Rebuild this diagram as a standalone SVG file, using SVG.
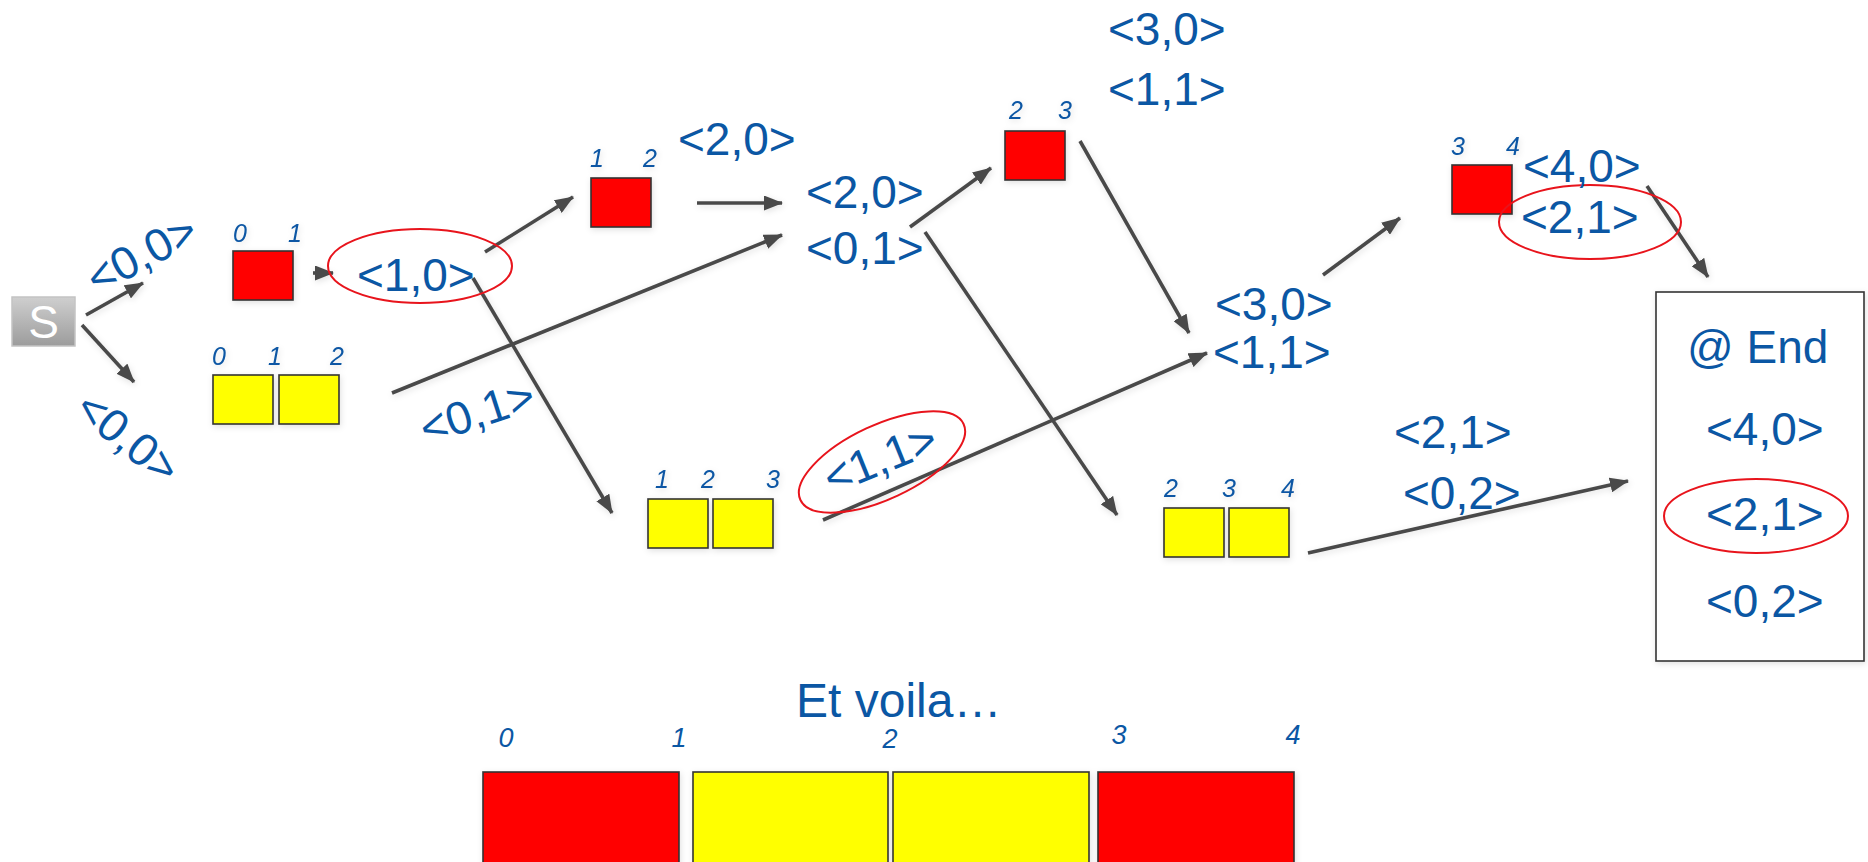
<svg xmlns="http://www.w3.org/2000/svg" width="1868" height="862" viewBox="0 0 1868 862">
  <defs>
    <marker id="arrow" markerUnits="userSpaceOnUse" markerWidth="19" markerHeight="15" refX="18" refY="7.5" orient="auto">
      <path d="M0,0 L19,7.5 L0,15 z" fill="#4a4a4a"/>
    </marker>
    <linearGradient id="sGrad" x1="0" y1="0" x2="0" y2="1">
      <stop offset="0" stop-color="#cfcfcf"/>
      <stop offset="1" stop-color="#9c9c9c"/>
    </linearGradient>
    <filter id="soft" x="-20%" y="-20%" width="140%" height="140%">
      <feDropShadow dx="1" dy="2" stdDeviation="3" flood-color="#000" flood-opacity="0.12"/>
    </filter>
  </defs>
  <style>
    .lbl { font-family: "Liberation Sans", Arial, sans-serif; font-size: 46px; fill: #0b57a4; }
    .idx { font-family: "Liberation Sans", Arial, sans-serif; font-size: 25px; font-style: italic; fill: #0b57a4; text-anchor: middle; }
    .idxb { font-family: "Liberation Sans", Arial, sans-serif; font-size: 27px; font-style: italic; fill: #0b57a4; text-anchor: middle; }
    .red { fill: #ff0000; stroke: #333; stroke-width: 1.6; }
    .yel { fill: #ffff00; stroke: #333; stroke-width: 1.6; }
    .ring { fill: none; stroke: #e8141c; stroke-width: 2; }
    .conn { stroke: #4a4a4a; stroke-width: 3.6; fill: none; marker-end: url(#arrow); }
  </style>
  <rect width="1868" height="862" fill="#ffffff"/>

  <!-- connectors -->
  <g id="connectors" filter="url(#soft)">
    <line class="conn" x1="86" y1="315" x2="143" y2="283"/>
    <line class="conn" x1="82" y1="325" x2="134" y2="382"/>
    <line class="conn" x1="313" y1="273" x2="333" y2="273" stroke-width="3"/>
    <line class="conn" x1="485" y1="252" x2="573" y2="197"/>
    <line class="conn" x1="473" y1="278" x2="612" y2="513"/>
    <line class="conn" x1="697" y1="203" x2="782" y2="203"/>
    <line class="conn" x1="392" y1="393" x2="782" y2="235"/>
    <line class="conn" x1="910" y1="227" x2="991" y2="168"/>
    <line class="conn" x1="925" y1="232" x2="1117" y2="515"/>
    <line class="conn" x1="1080" y1="141" x2="1189" y2="333"/>
    <line class="conn" x1="823" y1="520" x2="1207" y2="353"/>
    <line class="conn" x1="1323" y1="275" x2="1400" y2="218"/>
    <line class="conn" x1="1647" y1="186" x2="1708" y2="277"/>
    <line class="conn" x1="1308" y1="553" x2="1628" y2="481"/>
  </g>

  <!-- start node -->
  <g id="start">
    <rect x="12" y="297" width="63" height="49" fill="url(#sGrad)" stroke="#c4c4c4" stroke-width="1.5"/>
    <text x="43.5" y="338" font-family="Liberation Sans, Arial, sans-serif" font-size="46" fill="#ffffff" text-anchor="middle">S</text>
  </g>

  <!-- edge labels from start -->
  <g id="start-labels">
    <text class="lbl" text-anchor="middle" transform="translate(149,268) rotate(-28)">&lt;0,0&gt;</text>
    <text class="lbl" text-anchor="middle" transform="translate(118,450) rotate(39)">&lt;0,0&gt;</text>
  </g>

  <!-- red block 0-1 -->
  <g id="red01" filter="url(#soft)">
    <rect class="red" x="233" y="251" width="60" height="49"/>
    <text class="idx" x="240" y="242">0</text>
    <text class="idx" x="295" y="242">1</text>
  </g>

  <!-- yellow block 0-2 -->
  <g id="yel02" filter="url(#soft)">
    <rect class="yel" x="213" y="375" width="60" height="49"/>
    <rect class="yel" x="279" y="375" width="60" height="49"/>
    <text class="idx" x="219" y="365">0</text>
    <text class="idx" x="275" y="365">1</text>
    <text class="idx" x="337" y="365">2</text>
  </g>

  <!-- state <1,0> -->
  <g id="s10">
    <ellipse class="ring" cx="420" cy="266" rx="92" ry="37"/>
    <text class="lbl" x="357" y="291">&lt;1,0&gt;</text>
  </g>

  <g id="l01">
    <text class="lbl" text-anchor="middle" transform="translate(482,427) rotate(-18)">&lt;0,1&gt;</text>
  </g>

  <!-- red block 1-2 -->
  <g id="red12" filter="url(#soft)">
    <rect class="red" x="591" y="178" width="60" height="49"/>
    <text class="idx" x="597" y="167">1</text>
    <text class="idx" x="650" y="167">2</text>
  </g>
  <g id="l20top">
    <text class="lbl" x="678" y="155">&lt;2,0&gt;</text>
  </g>

  <!-- yellow block 1-3 -->
  <g id="yel13" filter="url(#soft)">
    <rect class="yel" x="648" y="499" width="60" height="49"/>
    <rect class="yel" x="713" y="499" width="60" height="49"/>
    <text class="idx" x="662" y="488">1</text>
    <text class="idx" x="708" y="488">2</text>
    <text class="idx" x="773" y="488">3</text>
  </g>

  <!-- state <1,1> (rotated) -->
  <g id="s11">
    <ellipse class="ring" cx="882" cy="462" rx="90" ry="37" transform="rotate(-25 882 462)"/>
    <text class="lbl" text-anchor="middle" transform="translate(886,473) rotate(-22)">&lt;1,1&gt;</text>
  </g>

  <!-- column 2 states -->
  <g id="col2">
    <text class="lbl" x="806" y="208">&lt;2,0&gt;</text>
    <text class="lbl" x="806" y="264">&lt;0,1&gt;</text>
  </g>

  <!-- red block 2-3 -->
  <g id="red23" filter="url(#soft)">
    <rect class="red" x="1005" y="131" width="60" height="49"/>
    <text class="idx" x="1016" y="119">2</text>
    <text class="idx" x="1065" y="119">3</text>
  </g>
  <g id="top3">
    <text class="lbl" x="1108" y="45">&lt;3,0&gt;</text>
    <text class="lbl" x="1108" y="105">&lt;1,1&gt;</text>
  </g>

  <!-- column 3 states -->
  <g id="col3">
    <text class="lbl" x="1215" y="320">&lt;3,0&gt;</text>
    <text class="lbl" x="1213" y="368">&lt;1,1&gt;</text>
  </g>

  <!-- yellow block 2-4 -->
  <g id="yel24" filter="url(#soft)">
    <rect class="yel" x="1164" y="508" width="60" height="49"/>
    <rect class="yel" x="1229" y="508" width="60" height="49"/>
    <text class="idx" x="1171" y="497">2</text>
    <text class="idx" x="1229" y="497">3</text>
    <text class="idx" x="1288" y="497">4</text>
  </g>
  <g id="low4">
    <text class="lbl" x="1394" y="448">&lt;2,1&gt;</text>
    <text class="lbl" x="1403" y="509">&lt;0,2&gt;</text>
  </g>

  <!-- red block 3-4 -->
  <g id="red34" filter="url(#soft)">
    <rect class="red" x="1452" y="165" width="60" height="49"/>
    <text class="idx" x="1458" y="155">3</text>
    <text class="idx" x="1513" y="155">4</text>
  </g>
  <g id="col4">
    <ellipse class="ring" cx="1590" cy="222" rx="91" ry="37"/>
    <text class="lbl" x="1523" y="182">&lt;4,0&gt;</text>
    <text class="lbl" x="1521" y="233">&lt;2,1&gt;</text>
  </g>

  <!-- end box -->
  <g id="end">
    <rect x="1656" y="292" width="208" height="369" fill="#ffffff" stroke="#333" stroke-width="1.6" filter="url(#soft)"/>
    <text class="lbl" x="1687" y="363">@ End</text>
    <text class="lbl" x="1706" y="445">&lt;4,0&gt;</text>
    <ellipse class="ring" cx="1756" cy="516" rx="92" ry="37"/>
    <text class="lbl" x="1706" y="530">&lt;2,1&gt;</text>
    <text class="lbl" x="1706" y="617">&lt;0,2&gt;</text>
  </g>

  <!-- final layout -->
  <g id="result">
    <text class="lbl" x="796" y="717" style="font-size:48px">Et voila…</text>
    <g filter="url(#soft)">
      <rect class="red" x="483" y="772" width="196" height="100"/>
      <rect class="yel" x="693" y="772" width="195" height="100"/>
      <rect class="yel" x="893" y="772" width="196" height="100"/>
      <rect class="red" x="1098" y="772" width="196" height="100"/>
    </g>
    <text class="idxb" x="506" y="747">0</text>
    <text class="idxb" x="679" y="747">1</text>
    <text class="idxb" x="890" y="748">2</text>
    <text class="idxb" x="1119" y="744">3</text>
    <text class="idxb" x="1293" y="744">4</text>
  </g>
</svg>
